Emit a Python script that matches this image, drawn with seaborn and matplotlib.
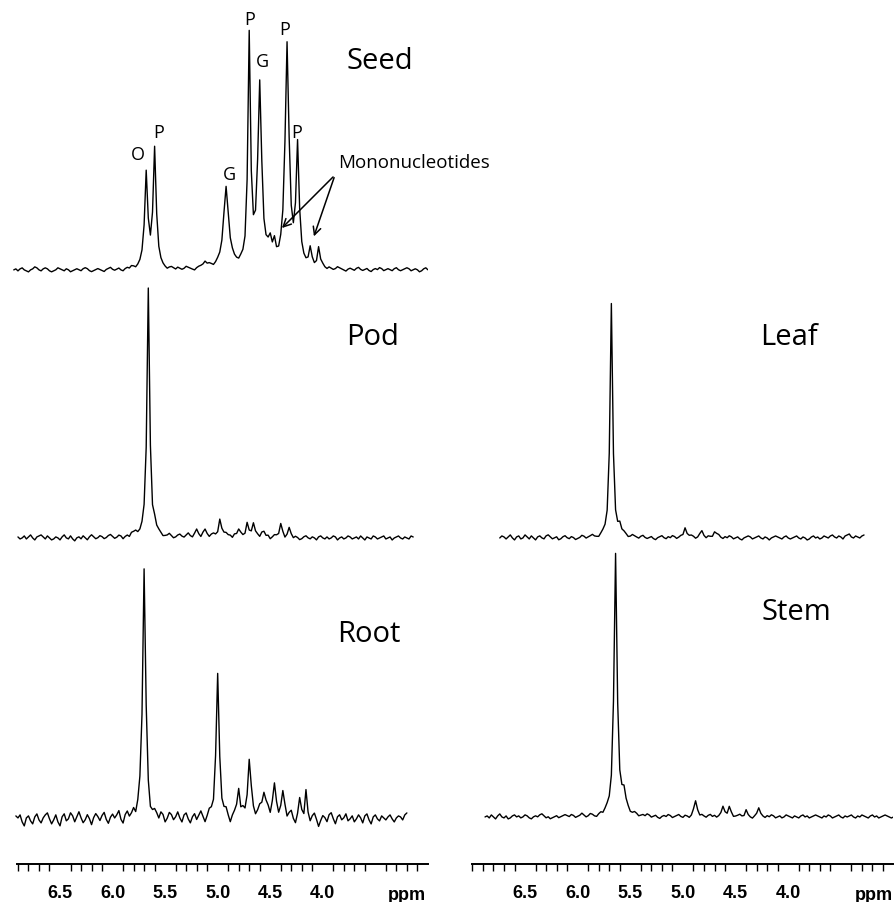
import numpy as np
import matplotlib
matplotlib.use('Agg')
import matplotlib.pyplot as plt
import seaborn as sns

# Peak tables: position (ppm), height (a.u.), width (ppm, FWHM)
seed_ppm = [5.68, 5.60, 5.12, 4.92, 4.70, 4.60, 4.50, 4.46, 4.34, 4.24, 4.12, 4.04]
seed_height = [95, 120, 7, 80, 228, 180, 22, 14, 222, 118, 18, 20]
seed_width = [0.035, 0.035, 0.04, 0.06, 0.03, 0.045, 0.05, 0.02, 0.045, 0.035, 0.03, 0.03]

pod_ppm = [5.78, 5.66, 5.60, 5.20, 5.12, 4.98, 4.92, 4.80, 4.72, 4.66, 4.56, 4.40, 4.32]
pod_height = [4, 250, 12, 5, 6, 18, 6, 10, 12, 17, 6, 14, 8]
pod_width = [0.06, 0.03, 0.03, 0.05, 0.05, 0.03, 0.03, 0.03, 0.03, 0.03, 0.04, 0.03, 0.03]

root_ppm = [5.70, 5.00, 4.80, 4.70, 4.56, 4.46, 4.38, 4.22, 4.16]
root_height = [248, 138, 28, 55, 30, 26, 22, 15, 25]
root_width = [0.035, 0.035, 0.02, 0.04, 0.04, 0.04, 0.04, 0.03, 0.02]

leaf_ppm = [5.68, 5.60, 4.98, 4.82, 4.70]
leaf_height = [232, 8, 12, 6, 7]
leaf_width = [0.03, 0.04, 0.03, 0.03, 0.04]

stem_ppm = [5.64, 5.56, 4.88, 4.62, 4.56, 4.40, 4.28]
stem_height = [262, 18, 14, 8, 10, 6, 7]
stem_width = [0.035, 0.05, 0.04, 0.03, 0.03, 0.03, 0.03]

# Baseline noise, one value every 0.02 ppm from the left end of each trace
seed_start = 6.94
seed_noise = [
    0, 1, -1, 1, 2, 0, -1, -2, 0, 1, 3, 2, 0, -1, 1, 2, 1, -1, -2, -1,
    0, 2, 1, 0, -1, 1, 0, -2, -1, 0, 1, 0, -1, 1, 2, 1, -1, -2, -1, 0,
    1, 0, -1, -2, 0, 1, 2, 0, -1, 0, 1, -1, -2, 0, 1, 0, 2, 1, -1, 0,
    1, 2, 0, -1, 1, 0, -2, -1, 1, 2, 1, 0, -1, -2, 0, 1, 0, -1, 1, 0,
    -1, 0, 2, 1, 0, -1, -2, 0, 1, 1, 0, -1, 0, 2, 1, -1, 0, 1, 0, -1,
    0, 1, -1, 0, 2, 1, 0, -1, 1, 0, -2, -1, 0, 1, 2, 0, -1, 1, 0, -1,
    1, 0, -1, -2, 0, 1, 0, 2, 1, -1, 0, 1, 0, -1, -2, 0, 1, 2, 1, 0,
    -1, 0, 1, -1, -2, 0, 1, 2, 0, -1, 1, 0, -1, 0, 2, 1, 0, -1, -2, 0,
    1, 0, -1, 1, 2, 0, -1, 0, 1, -1, -2, 0, 1, 0, 2, 1, -1, 0, 1, 0,
    -1, 1, 2, 0, -1, 0, 1, 2, 1, -1, 0, 1, 0, -2, -1, 1, 2, 0,
]
pod_start = 6.90
pod_noise = [
    1, -1, 0, 2, -1, 1, 3, 0, -2, 1, 2, 3, 1, -1, 2, 0, -2, -1, 1, 0,
    -2, 1, 3, 0, -1, 2, -1, -3, 0, 1, -1, 2, 0, -2, 1, 3, 1, -1, 0, 2,
    1, -1, 0, 2, 3, 1, -1, 0, 2, 1, -2, 0, 1, -1, 2, 1, 0, -2, -1, 1,
    2, 0, -1, 1, -2, -3, 0, 2, 1, -1, 0, 1, 3, 1, -1, 0, 2, 3, 1, 0,
    2, 4, 1, -1, 1, 3, 0, -2, 1, 2, 0, -1, 2, 3, 1, -1, 0, 2, 1, -2,
    0, 1, -1, 2, 0, -2, 1, 0, -1, 2, 1, -1, -3, 0, 1, -1, 2, 0, -1, 1,
    -2, 0, 2, 1, -1, 0, 1, -2, 0, 2, 1, -1, 1, 0, -2, -1, 1, 2, 0, -1,
    1, 0, -2, 1, 2, 0, -1, 1, -1, 0, 2, 1, -2, 0, 1, -1, 0, 2, 1, -1,
    0, 1, -1, 2, 0, -2, 1, 0, -1, 2, 1, -1, 0, 1, 2, -1, 0, 1, -2, 0,
    1, 2, 0, -1, 1, 0, -1, 2, 1,
]
root_start = 6.92
root_noise = [
    2, 0, 3, -4, -8, 0, 2, -3, -6, 1, 4, -2, -5, 0, 3, 5, -1, -6, -2, 3,
    -4, -8, 1, 4, -3, -1, 5, 2, -4, 1, 6, 0, -5, -2, 3, -1, -7, 0, 4, 1,
    -3, 2, 5, -2, -6, 0, 3, -1, 2, 6, -3, -7, 1, 4, -2, 0, 3, -5, -1, 2,
    -4, 1, 5, -2, -8, -3, 2, 0, -4, 3, 1, -6, -2, 4, 2, -3, 0, 5, -1, -5,
    2, 4, -2, -6, 0, 3, -3, 1, 5, -1, -7, -2, 3, 0, -4, 2, 6, 1, -3, 0,
    4, -2, -8, -1, 3, 5, -2, 1, 4, -3, -6, 2, 3, -1, -4, 1, 5, -2, -7, 0,
    3, -4, 1, 6, 0, -5, -2, 3, 1, -4, 2, 5, -3, -8, -2, 4, 1, -3, 2, 0,
    -5, 1, 4, -2, -9, -3, 2, 0, -4, 3, 5, -1, -6, 1, 3, -2, 0, 4, -3, -1,
    2, -4, -1, 3, 0, -5, 2, 4, -2, -6, 1, 3, -1, -3, 2, 0, -2, 1, 3, -1,
    -4, 0, 2, 1, -2, 3, 5,
]
leaf_start = 6.74
leaf_noise = [
    0, 2, 1, -1, 1, 3, 0, -2, 1, 2, -1, 0, 3, 1, -1, 2, 0, -2, 1, 2,
    0, -1, 2, 3, 1, -1, 0, 1, -2, -1, 1, 2, 0, -1, 1, 0, -2, -1, 0, 2,
    1, -1, 0, 1, 2, 0, -1, -2, 0, 1, 0, -1, 1, 2, 0, -2, -1, 1, 0, 2,
    1, -1, 0, 2, 1, 0, -1, 1, 2, 0, -1, 0, 1, -1, -2, 0, 1, 2, 0, -1,
    1, 0, 2, 1, -1, 0, 1, -1, -2, 0, 1, 2, 1, -1, 0, 2, 1, 0, -1, 1,
    0, -2, -1, 1, 2, 0, -1, 1, 0, 2, 1, -1, 0, 1, -1, -2, 0, 1, 2, 1,
    -1, 0, 1, 2, 0, -1, 1, 0, -2, 0, 1, 2, 1, 0, -1, 1, 2, 0, -1, 0,
    1, 2, 0, -1, 1, 0, -2, -1, 1, 2, 0, 1, -1, 0, 2, 1, 0, 2, 3, 1,
    0, 2, 1, -1, 2, 3, 4, 1, 0, 2, 1, 0, 2, 3,
]
stem_start = 6.88
stem_noise = [
    0, 1, -1, 2, 0, -2, 1, 3, 0, -1, 1, -2, -1, 1, 2, 0, 1, -1, 0, 2,
    1, -1, -2, 0, 1, 0, 2, 3, 1, -1, 0, -2, -1, 0, 1, -1, 0, 1, 2, 1,
    0, 2, 1, -1, 0, 1, 3, 1, -1, 0, 2, 1, -1, -2, 0, 1, -1, 1, 2, 0,
    -1, 1, 0, -2, 0, 1, 2, 0, 1, -1, 0, 2, 1, -1, 0, 1, 0, 2, 1, -1,
    0, 1, -1, -2, 0, 1, 0, 2, 1, -1, 0, 1, 2, 0, -1, 1, 0, -2, -1, 1,
    2, 0, -1, 1, 0, -1, 1, 2, 0, 1, -1, 0, 1, 2, 1, -1, 0, 1, -1, 0,
    1, 2, 0, -1, 1, 0, -1, -2, 0, 1, 2, 1, 0, -1, 1, 0, 2, 1, -1, 0,
    1, -1, 0, 2, 1, 0, -1, 1, 0, -1, 1, 2, 0, 1, -1, 0, 1, 2, 1, 0,
    -1, 1, 0, 2, 1, -1, 0, 1, 2, 0, -1, 1, 0, 1, 2, 0, -1, 1, 0, 2,
    1, 0, -1, 1, 2, 0, 1, -1, 0, 1, 2, 1, 0, -1, 0, 1,
]

major_ticks = [6.5, 6.0, 5.5, 5.0, 4.5, 4.0, 3.5, 3.0]
major_labels = ['6.5', '6.0', '5.5', '5.0', '4.5', '4.0', '', '']


def spectrum(start, noise, centers, heights, widths):
    ppm = np.round(start - 0.02 * np.arange(len(noise)), 2)
    y = np.array(noise, dtype=float)
    for c, h, w in zip(centers, heights, widths):
        y += h / (1 + ((ppm - c) / (w / 2)) ** 2)
    return ppm, y


sns.set_style('white')
plt.rcParams['font.family'] = ['Open Sans', 'DejaVu Sans']
plt.rcParams['text.color'] = 'black'
plt.rcParams['xtick.color'] = 'black'
plt.rcParams['xtick.labelcolor'] = 'black'

W, H = 895, 902
fig = plt.figure(figsize=(W / 100, H / 100), dpi=100)


def px_axes(x0, x1, top, bottom):
    return fig.add_axes([x0 / W, 1 - bottom / H, (x1 - x0) / W, (bottom - top) / H])


# column extents in pixels for 7.0 .. 3.0 ppm
cols = {'left': (7.45, 427.9), 'right': (472.4, 893.5)}

# name, column, top, bottom, baseline (pixels), data
panels = [
    ('Seed', 'left', 0, 280, 270, spectrum(seed_start, seed_noise, seed_ppm, seed_height, seed_width)),
    ('Pod', 'left', 280, 550, 538, spectrum(pod_start, pod_noise, pod_ppm, pod_height, pod_width)),
    ('Root', 'left', 550, 835, 818, spectrum(root_start, root_noise, root_ppm, root_height, root_width)),
    ('Leaf', 'right', 280, 550, 538, spectrum(leaf_start, leaf_noise, leaf_ppm, leaf_height, leaf_width)),
    ('Stem', 'right', 545, 835, 817, spectrum(stem_start, stem_noise, stem_ppm, stem_height, stem_width)),
]

axes = {}
for name, col, top, bottom, base, (ppm, y) in panels:
    x0, x1 = cols[col]
    ax = px_axes(x0, x1, top, bottom)
    sns.lineplot(x=ppm, y=y, ax=ax, color='black', linewidth=1.0, estimator=None, sort=False)
    ax.set_xlim(7.0, 3.0)
    ax.set_ylim(-(bottom - base), base - top)
    ax.axis('off')
    axes[name] = ax

# panel names
name_pos = {'Seed': (380, 69), 'Pod': (373, 345), 'Root': (369, 642),
            'Leaf': (789, 345), 'Stem': (796, 620)}
for name, (px, py) in name_pos.items():
    fig.text(px / W, 1 - py / H, name, ha='center', va='baseline', fontsize=21)

# peak assignments on the seed spectrum
peak_labels = [('O', 138, 160), ('P', 159, 138), ('G', 229, 180), ('P', 250, 25),
               ('G', 262, 67), ('P', 285, 35), ('P', 297, 138)]
for lab, px, py in peak_labels:
    fig.text(px / W, 1 - py / H, lab, ha='center', va='baseline', fontsize=13)

fig.text(338 / W, 1 - 168 / H, 'Mononucleotides', ha='left', va='baseline', fontsize=13.5)
for hx, hy in [(280, 230), (313, 239)]:
    fig.add_artist(matplotlib.patches.FancyArrowPatch(
        (335 / W, 1 - 175 / H), (hx / W, 1 - hy / H), transform=fig.transFigure,
        arrowstyle='->', mutation_scale=14, color='black', linewidth=1.1))

# ppm scales under each column
for col, start in [('left', 6.91), ('right', 7.0)]:
    x0, x1 = cols[col]
    ax = px_axes(x0, x1, 854, 864)
    ax.set_xlim(7.0, 3.0)
    ax.set_yticks([])
    for s in ['left', 'right', 'top']:
        ax.spines[s].set_visible(False)
    ax.spines['bottom'].set_bounds(start, 3.0)
    ax.spines['bottom'].set_linewidth(1.4)
    ax.spines['bottom'].set_color('black')
    ax.set_facecolor('none')
    ax.set_xticks(major_ticks)
    ax.set_xticklabels(major_labels)
    ax.set_xticks(np.round(np.arange(3.0, start + 0.01, 0.1), 1), minor=True)
    ax.tick_params(axis='x', which='major', direction='out', length=8, width=1.1,
                   color='black', pad=7, labelsize=13)
    ax.tick_params(axis='x', which='minor', direction='out', length=4.8, width=1.0,
                   color='black', bottom=True)
    for lab in ax.get_xticklabels():
        lab.set_fontfamily('Liberation Sans')
        lab.set_fontweight('bold')
    right_px = 426 if col == 'left' else 893
    fig.text(right_px / W, 1 - 895 / H, 'ppm', ha='right', va='center',
             fontsize=13, fontweight='bold', family='Liberation Sans')

fig.savefig('out.png', dpi=100)
